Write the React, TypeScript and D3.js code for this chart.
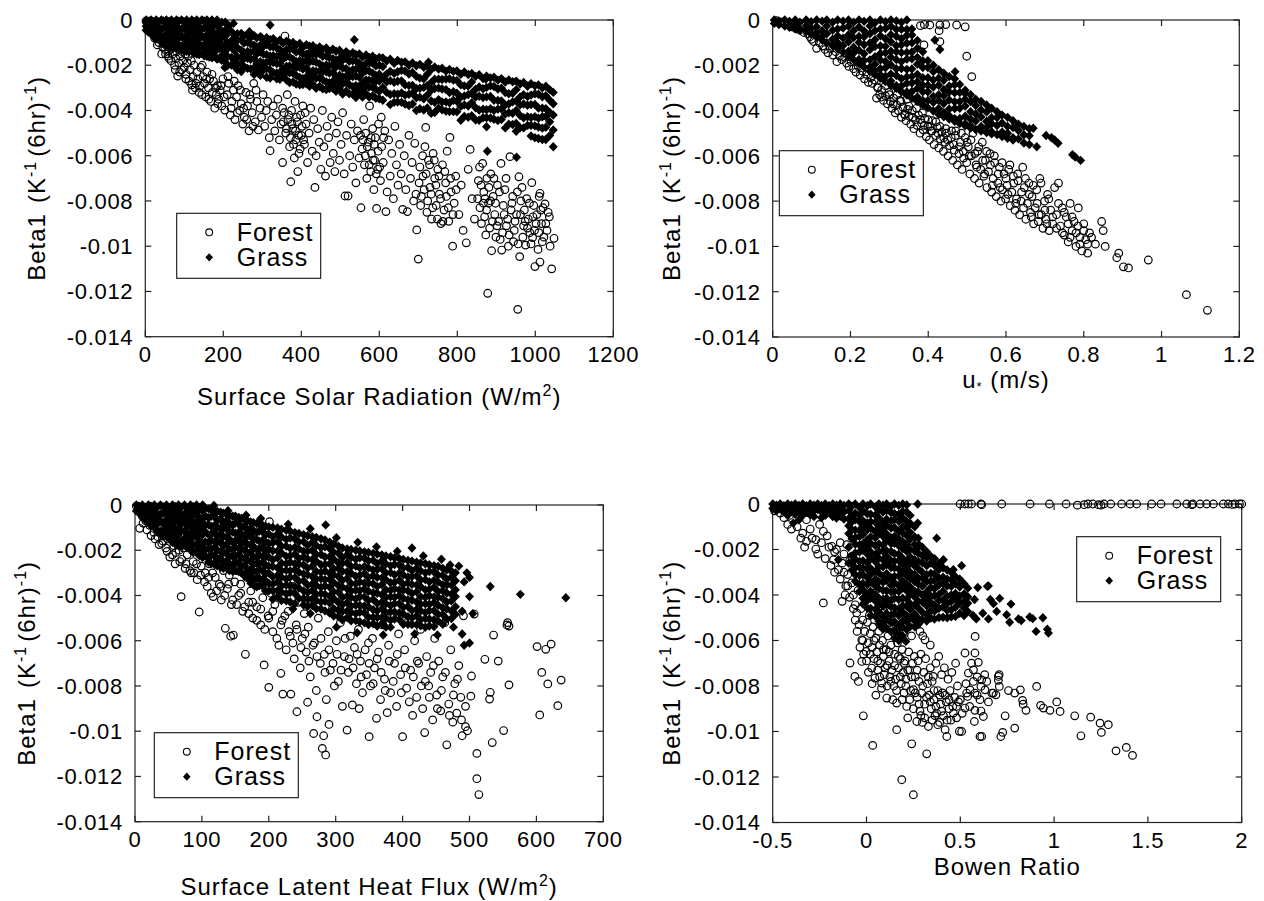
import React from "react";
import * as d3 from "d3";

// Beta1 values are stored in units of 1e-3 K^-1 (6hr)^-1 and scaled when drawn.
type Pt = [number, number];
// Dense series are listed as columns: an x value and the Beta1 values observed there.
type Col = [number, number[]];

const betaTicks = [0, -0.002, -0.004, -0.006, -0.008, -0.01, -0.012, -0.014];
const solarTicks = [0, 200, 400, 600, 800, 1000, 1200];
const ustarTicks = [0, 0.2, 0.4, 0.6, 0.8, 1, 1.2];
const latentTicks = [0, 100, 200, 300, 400, 500, 600, 700];
const bowenTicks = [-0.5, 0, 0.5, 1, 1.5, 2];

const seriesNames = ["Forest", "Grass"];

// Surface solar radiation (W/m2) vs Beta1
const solarForest: Pt[] = [
  [2,-0.05],[5,-0.1],[6,-0.3],[8,-0.2],[10,-0.05],[12,-0.3],[14,-0.5],[15,-0.15],[18,-0.4],[20,-0.25],[22,-0.6],[24,-0.8],[25,-0.45],[28,-0.8],[30,-0.35],[31,-1.1],[33,-0.7],[35,-1.0],[38,-0.55],[40,-0.9],[42,-1.5],[44,-0.95],[45,-1.2],[48,-0.75],[50,-1.3],
  [52,-1.5],[53,-1.1],[55,-0.9],[58,-1.6],[60,-1.35],[61,-1.7],[63,-1.2],[66,-1.8],[68,-1.25],[70,-1.5],[72,-1.05],[75,-2.0],[77,-2.2],[78,-1.7],[80,-1.4],[83,-2.48],[86,-1.9],[88,-2.3],[90,-1.6],[93,-2.2],[95,-1.4],[96,-1.8],[100,-2.1],
  [103,-1.5],[104,-2.6],[105,-2.4],[108,-1.9],[110,-1.6],[112,-2.7],[115,-2.2],[118,-1.8],[119,-2.87],[121,-3.1],[122,-2.5],[125,-2.0],[128,-3.0],[130,-2.8],[132,-2.3],[135,-2.6],[138,-3.2],[140,-2.92],[142,-2.1],[145,-3.3],[146,-2.0],[148,-2.5],
  [152,-2.8],[155,-3.4],[157,-2.6],[158,-2.3],[162,-3.0],[163,-3.5],[165,-2.6],[168,-3.6],[171,-2.4],[172,-3.2],[175,-2.7],[178,-3.9],[180,-3.0],[182,-3.3],[185,-2.9],[186,-3.7],[188,-3.5],[192,-3.1],[194,-2.9],[196,-3.8],[199,-2.6],
  [202,-3.4],[204,-3.98],[208,-0.59],[210,-3.3],[212,-2.5],[214,-2.8],[218,-4.2],[220,-3.9],[222,-3.6],[226,-3.1],[228,-2.7],[230,-4.4],[234,-3.4],[236,-4.1],[238,-2.9],[242,-4.0],[244,-3.1],[246,-3.7],[250,-4.6],
  [252,-3.9],[254,-4.3],[258,-3.2],[260,-4.4],[262,-3.8],[266,-4.9],[268,-3.3],[270,-3.5],[274,-4.1],[276,-4.7],[278,-2.8],[282,-4.5],[284,-3.1],[286,-3.6],[290,-4.86],[294,-3.9],[298,-4.3],
  [302,-3.3],[306,-4.7],[310,-4.0],[314,-3.6],[318,-5.2],[320,-5.78],[324,-4.4],[328,-3.8],[332,-4.9],[336,-4.2],[340,-3.5],[344,-5.3],[348,-4.6],[352,-6.3],[352,-3.9],
  [354,-4.5],[356,-4.1],[358,-0.71],[360,-5.0],[362,-4.8],[364,-3.3],[366,-4.4],[368,-4.2],[370,-5.6],[372,-5.2],[373,-7.15],[375,-4.0],[376,-4.6],[378,-4.8],[380,-5.5],[382,-6.1],[384,-3.6],[385,-4.9],[386,-5.3],[388,-4.3],[390,-4.5],[391,-6.7],[393,-5.1],[394,-5.9],[397,-5.7],[398,-4.2],[400,-5.1],[402,-4.7],[406,-5.3],[410,-4.1],
  [404,-3.8],[408,-5.5],[412,-4.6],[416,-6.3],[420,-5.0],[424,-3.9],[428,-5.8],[432,-4.4],[435,-7.4],[438,-6.0],[442,-4.8],[446,-5.4],[450,-6.6],
  [454,-4.0],[458,-5.6],[462,-6.9],[466,-4.7],[470,-5.2],[474,-6.3],[478,-4.3],[482,-5.9],[486,-6.7],[490,-5.0],[494,-4.5],[498,-6.2],
  [502,-5.5],[506,-4.1],[510,-6.8],[512,-7.78],[516,-5.1],[520,-7.78],[524,-6.0],[528,-4.6],[532,-6.5],[536,-5.3],[540,-7.2],[544,-4.9],[548,-6.1],
  [552,-5.1],[553,-8.3],[556,-5.7],[558,-5.3],[560,-4.4],[562,-6.4],[564,-6.0],[565,-5.0],[568,-7.0],[569,-5.6],[572,-5.4],[574,-6.4],[575,-3.8],[578,-6.7],[579,-5.2],[580,-5.9],[583,-4.8],[584,-6.2],[586,-7.5],[587,-5.5],[588,-6.2],[590,-5.2],[592,-6.8],[593,-8.33],[596,-6.6],[597,-5.8],[598,-4.6],[601,-6.5],[605,-4.3],[611,-5.2],
  [603,-7.1],[606,-5.6],[610,-6.3],[614,-4.9],[617,-8.47],[620,-7.6],[624,-5.3],[628,-6.9],[632,-5.9],[636,-7.9],[640,-4.7],[644,-6.4],[648,-7.3],
  [652,-5.5],[656,-6.8],[660,-8.37],[664,-6.0],[668,-7.5],[672,-8.47],[676,-5.1],[680,-7.0],[684,-6.3],[688,-8.0],[691,-5.45],[694,-7.7],[696,-9.28],[700,-10.57],
  [702,-7.2],[704,-6.5],[706,-8.2],[708,-7.8],[711,-6.0],[712,-6.9],[715,-7.5],[717,-5.6],[719,-4.75],[720,-6.8],[722,-8.5],[724,-8.0],[726,-6.2],[729,-6.4],[730,-7.4],[733,-7.7],[734,-8.8],[737,-8.3],[738,-5.9],[741,-6.2],[742,-7.0],[745,-7.3],[746,-8.2],[749,-8.8],[750,-6.6],
  [753,-6.9],[754,-7.7],[757,-7.9],[758,-9.0],[762,-6.4],[763,-8.9],[766,-8.4],[768,-6.7],[770,-7.2],[772,-7.8],[774,-5.8],[777,-8.3],[778,-8.9],[781,-5.19],[783,-7.0],[784,-7.6],[788,-10.0],[789,-8.6],[792,-8.1],[796,-6.9],[797,-7.5],
  [804,-8.6],[810,-7.3],[815,-9.3],[823,-9.85],[828,-6.6],[833,-5.72],[838,-7.9],[844,-8.8],
  [852,-7.9],[854,-7.1],[857,-6.5],[858,-8.3],[861,-7.3],[862,-9.0],[865,-6.34],[867,-8.1],[868,-7.6],[870,-8.7],[871,-7.9],[873,-9.5],[875,-8.4],[876,-7.0],[878,-12.08],[880,-8.1],[881,-7.4],[883,-9.2],[885,-8.0],[886,-6.8],[888,-10.2],[890,-8.9],[892,-7.8],[894,-7.0],[896,-8.6],[898,-8.1],[899,-9.6],
  [902,-9.1],[903,-7.3],[906,-8.9],[908,-7.6],[910,-9.7],[912,-6.34],[914,-10.17],[916,-9.4],[918,-8.2],[920,-8.6],[922,-7.5],[925,-7.0],[926,-9.1],[929,-8.8],[931,-10.0],[933,-9.5],[935,-6.04],[938,-8.4],[940,-8.1],[942,-7.8],[944,-9.8],[946,-9.3],[948,-8.9],
  [952,-8.6],[954,-7.6],[955,-12.79],[956,-9.9],[958,-6.93],[960,-10.46],[962,-8.6],[963,-8.0],[966,-7.4],[968,-9.6],[970,-9.1],[972,-8.4],[974,-8.9],[975,-9.95],[978,-7.9],[980,-9.2],[982,-8.8],[985,-8.1],[986,-9.4],[989,-9.9],[991,-7.19],[993,-9.62],[994,-8.7],[996,-8.2],[998,-9.3],[999,-10.9],
  [1002,-9.0],[1004,-8.6],[1007,-10.14],[1009,-9.4],[1010,-7.8],[1012,-10.7],[1012,-7.66],[1014,-8.4],[1016,-9.0],[1018,-9.8],[1020,-8.3],[1022,-9.6],[1025,-8.13],[1027,-9.0],[1030,-9.3],[1033,-8.5],[1036,-8.7],[1038,-10.0],[1042,-11.0],[1048,-9.65],
];

const solarGrass: Col[] = [
  [2,[0,-0.28,-0.45]],[8,[-0.05,-0.3,-0.53]],[15,[0,-0.31,-0.62]],[21,[-0.08,-0.5,-0.72]],[28,[0,-0.26,-0.61,-0.82]],[34,[-0.1,-0.45,-0.85]],
  [41,[0,-0.4,-0.7,-0.98]],[47,[-0.04,-0.34,-0.79,-1.06]],[54,[0,-0.28,-0.65,-0.96,-1.12]],[60,[-0.06,-0.43,-0.74,-1.15]],[67,[0,-0.31,-0.73,-0.99,-1.19]],
  [73,[-0.1,-0.52,-0.78,-1.13]],[80,[0,-0.26,-0.61,-1.01,-1.26]],[86,[-0.05,-0.4,-0.8,-1.1,-1.29]],[93,[0,-0.4,-0.7,-1.15,-1.33]],[99,[-0.08,-0.38,-0.83,-1.16,-1.36]],
  [106,[0,-0.28,-0.65,-0.96,-1.38]],[112,[-0.12,-0.49,-0.8,-1.22,-1.41]],[119,[0,-0.31,-0.73,-0.99,-1.34]],[125,[-0.06,-0.48,-0.74,-1.09,-1.47]],[132,[0,-0.26,-0.61,-1.01,-1.31,-1.5]],
  [138,[-0.1,-0.45,-0.85,-1.15,-1.53]],[145,[0,-0.4,-0.7,-1.15,-1.48]],[151,[-0.04,-0.34,-0.79,-1.12,-1.41,-1.58]],[158,[0,-0.28,-0.65,-0.96,-1.38,-1.61]],[164,[-0.1,-0.47,-0.78,-1.2,-1.46,-1.64]],
  [171,[0,-0.31,-0.73,-0.99,-1.34,-1.67]],[177,[-0.15,-0.57,-0.83,-1.18,-1.58]],[184,[0,-0.26,-0.61,-1.01,-1.31,-1.73]],[190,[-0.2,-0.55,-0.95,-1.25,-1.7]],[196,[-0.1,-0.5,-0.8,-1.25,-1.58,-1.78]],
  [205,[-0.1]],[214,[-0.25]],[226,[-0.15]],
  [204,[-0.46,-0.74,-1.11,-1.42,-1.84,-2.1]],[211,[-0.58,-1.0,-1.26,-1.61,-2.01]],[221,[-0.51,-0.91,-1.21,-1.66,-1.99]],[229,[-0.69,-1.06,-1.37,-1.79,-2.05]],
  [236,[-0.61,-0.87,-1.22,-1.62,-1.92,-2.2]],[246,[-0.59,-0.89,-1.34,-1.67,-1.96,-2.28]],[253,[-0.71,-1.02,-1.44,-1.7,-2.05]],[262,[-0.64,-0.99,-1.39,-1.69,-2.14]],
  [267,[-0.52]],[270,[-0.78,-1.06,-1.43,-1.74,-2.16]],[279,[-0.69,-1.11,-1.37,-1.72,-2.12,-2.41]],[286,[-0.79,-1.19,-1.49,-1.94,-2.27]],[295,[-0.74,-1.11,-1.42,-1.84,-2.1,-2.45]],
  [298,[-0.77]],[303,[-0.9,-1.16,-1.51,-1.91,-2.21]],[311,[-0.78,-1.08,-1.53,-1.86,-2.15,-2.53]],[320,[-0.22,-0.87,-1.18,-1.6,-1.86,-2.21,-2.57]],[328,[-0.83,-1.18,-1.58,-1.88,-2.33]],
  [337,[-0.96,-1.24,-1.61,-1.92,-2.34,-2.6]],[345,[-0.89,-1.31,-1.57,-1.92,-2.32,-2.62]],[353,[-1.03,-1.43,-1.73,-2.18,-2.51]],[362,[-0.94,-1.31,-1.62,-2.04,-2.3,-2.65]],
  [370,[-1.02,-1.28,-1.63,-2.03,-2.33,-2.76]],[379,[-0.99,-1.29,-1.74,-2.07,-2.36,-2.74]],[387,[-1.11,-1.42,-1.84,-2.1,-2.45,-2.83]],[396,[-1.04,-1.39,-1.79,-2.09,-2.54,-2.86]],
  [404,[-1.21,-1.49,-1.86,-2.17,-2.59,-2.85]],[413,[-1.09,-1.51,-1.77,-2.12,-2.52,-2.82]],[421,[-1.16,-1.56,-1.86,-2.31,-2.64,-2.93]],[423,[-1.4]],[430,[-1.14,-1.51,-1.82,-2.24,-2.5,-2.85]],
  [438,[-1.26,-1.52,-1.87,-2.27,-2.57,-3.02]],[447,[-1.19,-1.49,-1.94,-2.27,-2.56,-2.94]],[453,[-1.3]],[455,[-1.3,-1.61,-2.03,-2.29,-2.64,-3.04]],[464,[-1.24,-1.59,-1.99,-2.29,-2.74,-3.07]],
  [472,[-1.39,-1.67,-2.04,-2.35,-2.77,-3.03]],[481,[-1.29,-1.71,-1.97,-2.32,-2.72,-3.02]],[489,[-1.38,-1.78,-2.08,-2.53,-2.86,-3.15]],[498,[-1.34,-1.71,-2.02,-2.44,-2.7,-3.05]],
  [506,[-1.51,-1.77,-2.12,-2.52,-2.82,-3.27]],[515,[-1.4,-1.7,-2.15,-2.48,-2.77,-3.15]],[523,[-1.52,-1.83,-2.25,-2.51,-2.86,-3.26]],[532,[-1.45,-1.8,-2.2,-2.5,-2.95,-3.28]],
  [536,[-0.87]],[540,[-1.52,-1.8,-2.17,-2.48,-2.9,-3.16,-3.43]],[549,[-1.5,-1.92,-2.18,-2.53,-2.93,-3.23]],[557,[-1.64,-2.04,-2.34,-2.79,-3.12,-3.41]],[566,[-1.55,-1.92,-2.23,-2.65,-2.91,-3.26]],
  [574,[-1.65,-1.91,-2.26,-2.66,-2.96,-3.41]],[583,[-1.6,-1.9,-2.35,-2.68,-2.97,-3.35]],[591,[-1.72,-2.03,-2.45,-2.71,-3.06,-3.46]],[600,[-1.65,-2.0,-2.4,-2.7,-3.15,-3.48]],
  [609,[-1.68,-2.06,-2.56,-2.98,-3.55]],[619,[-1.81,-2.38,-2.73,-3.2]],[628,[-1.73,-2.27,-2.68,-3.29,-3.74]],[638,[-1.91,-2.36,-2.75,-3.26,-3.64]],[647,[-1.79,-2.29,-2.71,-3.28,-3.63]],
  [657,[-1.87,-2.22,-2.69,-3.23,-3.64]],[666,[-1.85,-2.26,-2.87,-3.32,-3.71]],[676,[-2.0,-2.39,-2.9,-3.28,-3.78]],[685,[-1.9,-2.32,-2.89,-3.24,-3.71]],[695,[-2.02,-2.49,-3.03,-3.44,-4.0]],
  [704,[-1.96,-2.57,-3.02,-3.41,-3.92]],[714,[-2.09,-2.6,-2.98,-3.48,-3.98]],[723,[-2.02,-2.4,-2.9,-3.32,-3.89]],[726,[-1.87]],[733,[-2.19,-2.76,-3.11,-3.58,-4.12]],
  [742,[-2.08,-2.62,-3.03,-3.64,-4.09]],[752,[-2.17,-2.62,-3.01,-3.52,-3.9]],[761,[-2.13,-2.63,-3.05,-3.62,-3.97]],[771,[-2.26,-2.61,-3.08,-3.62,-4.03]],[780,[-2.19,-2.6,-3.21,-3.66,-4.05]],
  [790,[-2.27,-2.66,-3.17,-3.55,-4.05]],[799,[-2.25,-2.67,-3.24,-3.59,-4.06]],[809,[-2.4,-2.87,-3.41,-3.82,-4.43]],[818,[-2.3,-2.91,-3.36,-3.75,-4.26]],[828,[-2.41,-2.92,-3.3,-3.8,-4.3]],
  [837,[-2.36,-2.74,-3.24,-3.66,-4.23]],[847,[-2.49,-3.06,-3.41,-3.88,-4.42]],[856,[-2.42,-2.96,-3.37,-3.98,-4.43]],[866,[-2.59,-3.04,-3.43,-3.94,-4.32]],[873,[-2.61]],[877,[-5.8]],
  [875,[-2.48,-2.98,-3.4,-3.97,-4.32,-4.72]],[885,[-2.56,-2.91,-3.38,-3.92,-4.33]],[894,[-2.53,-2.94,-3.55,-4.0,-4.39]],[904,[-2.66,-3.05,-3.56,-3.94,-4.44]],[913,[-2.59,-3.01,-3.58,-3.93,-4.4]],
  [923,[-2.74,-3.21,-3.75,-4.16,-4.77]],[932,[-2.65,-3.26,-3.71,-4.1,-4.61]],[942,[-2.73,-3.24,-3.62,-4.12,-4.62]],[951,[-2.7,-3.08,-3.58,-4.0,-4.57,-4.92]],[952,[-6.07]],
  [961,[-2.83,-3.4,-3.75,-4.22,-4.76]],[970,[-2.76,-3.3,-3.71,-4.32,-4.77]],[980,[-2.93,-3.38,-3.77,-4.28,-4.66]],[989,[-2.82,-3.32,-3.74,-4.31,-4.66,-5.13]],[999,[-2.91,-3.26,-3.73,-4.27,-4.68,-5.2]],
  [1008,[-2.87,-3.28,-3.89,-4.34,-4.73,-5.24]],[1018,[-3.0,-3.39,-3.9,-4.28,-4.78,-5.28]],[1027,[-2.93,-3.35,-3.92,-4.27,-4.74,-5.28]],[1037,[-3.08,-3.55,-4.09,-4.5,-5.11]],[1046,[-3.2,-3.7,-4.2,-4.86,-5.6]],
];

// Friction velocity u* (m/s) vs Beta1
const ustarForest: Pt[] = [
  [0.01,-0.03],[0.02,-0.08],[0.03,-0.12],[0.04,-0.2],[0.05,-0.3],[0.06,-0.38],[0.07,-0.45],[0.08,-0.55],[0.09,-0.6],[0.096,-0.74],[0.1,-0.85],
  [0.105,-0.95],[0.113,-1.25],[0.12,-1.0],[0.128,-1.15],[0.135,-1.3],[0.142,-1.45],[0.148,-1.25],
  [0.155,-1.55],[0.162,-1.4],[0.165,-1.84],[0.172,-1.6],[0.178,-1.75],[0.185,-1.65],[0.19,-1.9],[0.196,-2.05],
  [0.202,-1.85],[0.208,-2.15],[0.214,-2.3],[0.22,-2.05],[0.225,-2.43],[0.23,-2.25],[0.236,-2.6],[0.241,-2.4],[0.246,-2.75],
  [0.252,-2.55],[0.256,-2.8],[0.261,-2.65],[0.267,-3.45],[0.27,-2.95],[0.275,-3.3],[0.28,-3.1],[0.285,-3.55],[0.29,-3.35],[0.295,-3.7],[0.299,-3.2],
  [0.303,-3.6],[0.307,-3.9],[0.311,-3.45],[0.315,-4.1],[0.319,-3.75],[0.323,-4.0],[0.327,-3.55],[0.331,-4.3],[0.335,-3.85],[0.339,-4.15],[0.343,-4.45],[0.347,-3.95],
  [0.351,-4.25],[0.355,-4.6],[0.359,-4.0],[0.363,-4.8],[0.367,-4.4],[0.371,-4.65],[0.375,-4.2],[0.379,-5.0],[0.383,-4.55],[0.387,-4.85],[0.391,-4.35],[0.395,-5.15],[0.399,-4.7],
  [0.403,-5.3],[0.407,-4.9],[0.411,-4.45],[0.415,-5.5],[0.419,-5.1],[0.423,-4.75],[0.427,-5.65],[0.431,-5.25],[0.435,-4.95],[0.439,-5.8],[0.443,-5.4],[0.447,-5.0],
  [0.451,-6.0],[0.455,-5.55],[0.459,-5.2],[0.463,-6.2],[0.467,-5.75],[0.471,-4.9],[0.475,-6.4],[0.479,-5.9],[0.483,-5.4],[0.487,-6.6],[0.491,-6.1],[0.495,-5.2],[0.499,-6.3],
  [0.503,-5.6],[0.507,-6.8],[0.511,-6.0],[0.515,-5.0],[0.519,-7.0],[0.523,-6.4],[0.527,-5.8],[0.531,-7.2],[0.535,-6.6],[0.539,-5.4],[0.543,-6.9],[0.547,-6.2],
  [0.551,-7.4],[0.555,-6.7],[0.559,-5.9],[0.563,-7.6],[0.567,-7.0],[0.571,-6.3],[0.575,-7.8],[0.579,-7.2],[0.583,-6.5],[0.587,-8.0],[0.591,-7.5],[0.595,-6.8],[0.599,-7.9],
  [0.603,-7.3],[0.607,-6.6],[0.611,-8.2],[0.615,-7.6],[0.619,-6.9],[0.623,-8.4],[0.627,-7.9],[0.631,-7.1],[0.635,-8.6],[0.639,-8.0],[0.643,-6.5],[0.647,-7.4],
  [0.651,-8.8],[0.655,-8.1],[0.659,-7.2],[0.663,-8.5],[0.667,-7.8],[0.671,-9.0],[0.675,-8.3],[0.679,-7.5],[0.683,-8.9],[0.687,-7.0],[0.691,-8.6],[0.695,-9.2],[0.699,-8.0],
  [0.703,-8.8],[0.707,-7.7],[0.711,-9.3],[0.715,-8.4],[0.72,-9.0],[0.725,-7.4],[0.73,-8.6],[0.735,-7.2],[0.74,-9.1],[0.745,-8.3],[0.75,-9.5],
  [0.755,-8.7],[0.76,-9.8],[0.765,-8.1],[0.77,-9.3],[0.775,-8.9],[0.78,-10.0],[0.785,-9.1],[0.786,-8.3],[0.79,-9.6],[0.795,-10.2],[0.8,-9.0],
  [0.805,-9.7],[0.81,-10.3],[0.815,-9.4],[0.846,-8.9],[0.85,-9.3],[0.855,-10.0],[0.885,-10.5],[0.89,-10.3],[0.902,-10.9],[0.915,-10.95],[0.966,-10.6],[1.064,-12.13],[1.118,-12.82],
  [0.38,-0.25],[0.39,-0.2],[0.404,-0.22],[0.43,-0.22],[0.445,-0.2],[0.473,-0.22],[0.495,-0.3],[0.428,-0.47],[0.43,-0.96],[0.389,-1.1],[0.499,-1.6],[0.512,-2.5],
  [0.27,-3.0],[0.28,-3.4],[0.29,-2.9],[0.3,-3.3],[0.31,-3.7],[0.32,-3.3],[0.33,-3.6],[0.34,-4.2],[0.345,-3.5],[0.35,-3.8],[0.36,-4.3],[0.37,-3.9],[0.38,-4.4],[0.385,-4.1],[0.39,-4.65],[0.4,-4.4],
  [0.405,-4.7],[0.41,-4.9],[0.42,-4.5],[0.425,-5.0],[0.43,-4.7],[0.44,-5.2],[0.445,-4.8],[0.45,-5.3],[0.46,-4.9],[0.465,-5.5],[0.47,-5.1],[0.48,-5.6],[0.485,-5.0],[0.49,-5.8],[0.5,-5.4],
  [0.505,-6.0],[0.51,-5.3],[0.52,-5.9],[0.525,-6.5],[0.53,-5.6],[0.54,-6.2],[0.545,-6.8],[0.55,-5.8],[0.56,-6.4],[0.565,-7.3],[0.57,-6.0],[0.58,-6.8],[0.585,-7.4],[0.59,-6.3],[0.6,-7.0],
  [0.605,-7.7],[0.61,-6.4],[0.62,-7.2],[0.625,-8.1],[0.63,-6.8],[0.64,-7.6],[0.645,-8.3],[0.65,-7.0],[0.66,-7.7],[0.665,-8.7],[0.67,-7.3],[0.68,-8.1],[0.685,-8.6],[0.69,-7.2],[0.7,-8.4],
  [0.705,-9.0],[0.71,-7.9],[0.72,-8.7],[0.73,-9.2],[0.735,-8.1],[0.745,-9.4],[0.75,-8.5],[0.76,-9.0],[0.765,-9.6],[0.77,-8.7],[0.78,-9.4],[0.79,-9.9],[0.8,-9.3],[0.81,-9.9],[0.82,-9.6],[0.83,-9.9],
];

const ustarGrass: Col[] = [
  [0.004,[0,-0.15]],[0.016,[-0.05,-0.2]],[0.031,[0,-0.27]],[0.043,[-0.06,-0.32]],[0.058,[0,-0.22,-0.39]],[0.07,[-0.1,-0.44]],
  [0.086,[0,-0.25,-0.5]],[0.099,[-0.08,-0.38,-0.62]],[0.113,[0,-0.3,-0.55,-0.75]],[0.127,[-0.05,-0.47,-0.73,-0.88]],[0.139,[0,-0.26,-0.61,-1.0]],
  [0.154,[-0.1,-0.45,-0.85,-1.14]],[0.167,[0,-0.4,-0.7,-1.0,-1.26]],[0.181,[-0.05,-0.35,-0.8,-1.13,-1.42]],[0.195,[0,-0.28,-0.65,-0.96,-1.38,-1.6]],
  [0.208,[-0.1,-0.47,-0.78,-1.2,-1.46,-1.75]],[0.222,[0,-0.31,-0.73,-0.99,-1.34,-1.74,-1.92]],[0.235,[-0.06,-0.48,-0.74,-1.09,-1.49,-1.79,-2.08]],
  [0.25,[0,-0.26,-0.61,-1.01,-1.31,-1.76,-2.09,-2.26]],[0.263,[-0.12,-0.47,-0.87,-1.17,-1.62,-1.95,-2.24,-2.42]],[0.277,[0,-0.4,-0.7,-1.15,-1.48,-1.77,-2.15,-2.43,-2.57]],
  [0.29,[-0.08,-0.38,-0.83,-1.16,-1.45,-1.83,-2.11,-2.48,-2.72]],[0.304,[0,-0.28,-0.65,-0.96,-1.38,-1.64,-1.99,-2.39,-2.69,-2.87]],
  [0.318,[-0.04,-0.41,-0.72,-1.14,-1.4,-1.75,-2.15,-2.45,-2.9,-3.02]],[0.331,[-0.1,-0.41,-0.83,-1.09,-1.44,-1.84,-2.14,-2.59,-2.92,-3.17]],
  [0.345,[0,-0.42,-0.68,-1.03,-1.43,-1.73,-2.18,-2.51,-2.8,-3.18,-3.32]],[0.358,[-0.4,-0.66,-1.01,-1.41,-1.71,-2.16,-2.49,-2.78,-3.16,-3.46]],
  [0.372,[-0.9,-1.25,-1.65,-1.95,-2.4,-2.73,-3.02,-3.4,-3.6]],[0.386,[-1.4,-1.8,-2.1,-2.55,-2.88,-3.17,-3.55,-3.74]],[0.399,[-1.8,-2.1,-2.55,-2.88,-3.17,-3.55,-3.88]],
  [0.413,[-2.0,-2.28,-2.65,-2.96,-3.38,-3.64,-4.02]],[0.427,[-2.2,-2.57,-2.88,-3.3,-3.56,-3.91,-4.17]],[0.44,[-2.35,-2.66,-3.08,-3.34,-3.69,-4.09,-4.27]],
  [0.454,[-2.5,-2.92,-3.18,-3.53,-3.93,-4.23,-4.37]],[0.468,[-2.6,-2.86,-3.21,-3.61,-3.91,-4.36,-4.47]],[0.481,[-2.85,-3.2,-3.6,-3.9,-4.35,-4.57]],
  [0.495,[-3.1,-3.5,-3.8,-4.25,-4.58,-4.67]],[0.509,[-3.3,-3.6,-4.05,-4.38,-4.67,-4.77]],[0.522,[-3.5,-3.78,-4.15,-4.46,-4.84]],[0.536,[-3.6,-3.97,-4.28,-4.7,-4.9]],
  [0.55,[-3.75,-4.06,-4.48,-4.74,-4.97]],[0.563,[-3.9,-4.32,-4.58,-4.93,-5.03]],[0.577,[-4.05,-4.31,-4.66,-5.06]],[0.59,[-4.2,-4.55,-4.95,-5.15]],
  [0.604,[-4.3,-4.7,-5.0,-5.22]],[0.618,[-4.45,-4.75,-5.2,-5.3]],[0.632,[-4.6,-4.88,-5.25]],[0.646,[-4.7,-5.07,-5.43]],[0.66,[-4.8,-5.11,-5.5]],
  [0.67,[-4.78]],[0.679,[-5.6]],[0.703,[-5.1]],[0.717,[-5.2]],[0.725,[-5.3]],[0.734,[-5.44]],[0.771,[-5.95]],[0.778,[-6.05]],[0.792,[-6.2]],
  [0.417,[-0.88]],[0.43,[-1.3]],[0.469,[-2.28]],[0.494,[-3.23]],
];

// Surface latent heat flux (W/m2) vs Beta1
const latentForest: Pt[] = [
  [2,-0.05],[5,-0.15],[7,-1.03],[8,-0.3],[11,-0.5],[14,-0.2],[16,-0.7],[19,-0.4],[22,-0.9],[25,-0.6],[28,-1.2],[31,-0.8],[34,-1.4],[37,-1.0],[40,-1.7],[43,-1.2],[46,-1.9],[49,-1.5],
  [52,-2.3],[55,-1.3],[58,-1.8],[61,-2.1],[64,-1.5],[67,-2.5],[69,-4.05],[72,-1.9],[75,-2.8],[78,-2.2],[81,-1.7],[84,-3.0],[87,-2.5],[90,-2.0],[93,-3.3],[96,-4.73],[99,-2.7],
  [102,-2.2],[105,-3.0],[108,-3.6],[111,-2.6],[114,-3.9],[117,-4.05],[120,-3.2],[123,-2.4],[126,-3.5],[129,-4.2],[132,-2.9],[135,-5.45],[138,-3.7],[141,-3.1],[143,-5.8],[144,-4.4],[147,-5.75],[149,-3.4],
  [152,-2.9],[155,-4.0],[158,-3.5],[161,-4.7],[165,-6.6],[167,-3.2],[170,-4.3],[173,-3.8],[176,-5.0],[179,-2.8],[182,-4.5],[185,-3.4],[188,-5.3],[191,-4.1],[193,-7.07],[196,-3.6],[199,-4.9],[200,-8.06],[201,-0.74],
  [203,-3.9],[206,-5.6],[209,-4.4],[212,-3.3],[215,-6.2],[218,-7.44],[220,-5.1],[221,-8.36],[223,-4.0],[226,-6.4],[229,-4.7],[232,-5.8],[233,-8.36],[235,-3.6],[238,-6.8],[241,-5.3],[242,-9.14],[244,-4.3],[247,-7.2],[250,-5.9],
  [253,-4.8],[256,-6.5],[258,-8.72],[259,-5.4],[262,-7.6],[265,-4.2],[267,-10.1],[268,-6.1],[271,-8.2],[272,-9.36],[274,-5.0],[277,-7.0],[280,-10.76],[282,-10.2],[283,-6.6],[285,-11.05],[286,-8.6],[289,-5.6],[290,-9.7],[292,-7.3],[295,-4.6],[298,-8.0],
  [301,-6.0],[304,-7.8],[307,-5.2],[310,-8.9],[313,-6.7],[316,-4.9],[317,-9.95],[319,-7.4],[322,-5.8],[325,-8.84],[328,-6.3],[331,-7.9],[334,-5.5],[335,-9.0],[337,-6.9],[340,-8.3],[343,-4.7],[346,-7.5],[349,-6.1],[350,-10.24],
  [352,-8.0],[355,-5.9],[358,-7.2],[361,-9.43],[364,-6.5],[367,-8.6],[370,-5.3],[373,-7.7],[377,-9.18],[379,-6.2],[382,-8.3],[385,-4.9],[388,-7.0],[391,-8.9],[394,-5.7],[397,-7.5],[400,-10.24],
  [403,-6.4],[406,-8.1],[409,-5.1],[412,-7.3],[415,-9.3],[418,-6.0],[421,-8.5],[424,-7.0],[427,-5.5],[430,-9.0],[433,-10.06],[436,-6.7],[439,-8.0],[442,-7.4],[445,-9.5],[448,-5.9],
  [451,-8.4],[454,-6.9],[457,-9.1],[460,-7.6],[463,-5.2],[466,-10.6],[469,-8.8],[472,-6.4],[475,-9.6],[478,-7.9],[481,-9.2],[484,-7.1],[487,-8.5],[489,-10.2],[491,-4.9],[494,-9.8],[497,-9.98],
  [502,-8.45],[503,-7.56],[507,-4.82],[511,-10.98],[511,-12.1],[514,-12.8],
  [523,-6.82],[530,-8.58],[531,-8.28],[534,-10.5],[536,-5.75],[543,-6.9],[551,-9.97],[556,-5.3],[557,-5.2],[559,-5.35],[559,-7.95],
  [601,-6.26],[605,-9.28],[608,-7.4],[614,-6.38],[617,-7.91],[622,-6.15],[632,-8.87],[637,-7.74],
  [12,-0.8],[18,-1.1],[24,-1.35],[30,-1.5],[36,-1.75],[42,-1.6],[48,-2.05],[56,-2.2],[60,-2.6],[66,-2.0],[70,-2.4],[76,-2.6],[82,-2.9],[88,-3.0],[92,-2.6],[98,-3.1],
  [104,-3.4],[110,-3.2],[116,-3.0],[122,-3.8],[128,-3.6],[134,-4.0],[140,-3.5],[146,-4.2],[152,-4.4],[158,-3.9],[164,-4.5],[170,-4.8],[176,-4.3],[182,-5.1],[188,-4.6],[194,-5.5],
  [200,-5.0],[206,-4.7],[212,-5.9],[218,-5.3],[224,-4.9],[230,-5.6],[236,-6.1],[242,-5.5],[248,-6.3],[254,-5.7],[260,-6.9],[266,-6.2],[272,-6.7],[278,-5.9],[284,-7.4],[290,-6.4],
  [296,-7.0],[302,-6.6],[308,-7.3],[314,-5.9],[320,-6.8],[326,-7.2],[332,-6.6],[338,-7.6],[344,-6.4],[350,-7.0],[356,-7.9],[362,-6.8],[368,-7.4],[374,-8.2],[380,-6.9],[386,-7.8],
  [392,-6.6],[398,-8.3],[404,-7.2],[410,-8.7],[416,-7.6],[422,-6.9],[428,-8.0],[434,-7.8],[440,-8.5],[446,-7.1],[452,-9.0],[458,-8.2],[464,-7.4],[470,-9.3],[476,-8.4],[482,-7.7],[488,-9.5],[494,-8.9],
];

const latentGrass: Col[] = [
  [2,[0,-0.26]],[6,[-0.05,-0.36]],[11,[0,-0.28,-0.5]],[15,[-0.1,-0.47,-0.65]],[20,[0,-0.31,-0.73]],[24,[-0.05,-0.47,-0.73,-0.92]],
  [29,[0,-0.26,-0.61,-1.01]],[33,[-0.1,-0.45,-0.85,-1.15]],[38,[0,-0.4,-0.7,-1.15,-1.28]],[42,[-0.08,-0.38,-0.83,-1.16,-1.37]],[47,[0,-0.28,-0.65,-0.96,-1.38]],
  [51,[-0.12,-0.49,-0.8,-1.22,-1.48]],[56,[0,-0.31,-0.73,-0.99,-1.34,-1.65]],[60,[-0.06,-0.48,-0.74,-1.09,-1.49,-1.71]],[65,[0,-0.26,-0.61,-1.01,-1.31,-1.76]],
  [69,[-0.1,-0.45,-0.85,-1.15,-1.6,-1.84]],[74,[0,-0.4,-0.7,-1.15,-1.48,-1.77]],[78,[-0.14,-0.44,-0.89,-1.22,-1.51,-1.89]],[83,[0,-0.28,-0.65,-0.96,-1.38,-1.64,-1.99]],
  [87,[-0.07,-0.44,-0.75,-1.17,-1.43,-1.78,-2.1]],[92,[0,-0.31,-0.73,-0.99,-1.34,-1.74,-2.04]],[96,[-0.12,-0.54,-0.8,-1.15,-1.55,-1.85,-2.24]],
  [101,[0,-0.26,-0.61,-1.01,-1.31,-1.76,-2.09,-2.32]],[105,[-0.13,-0.48,-0.88,-1.18,-1.63,-1.96,-2.25]],[110,[-0.17,-0.57,-0.87,-1.32,-1.65,-1.94,-2.32,-2.52]],
  [114,[-0.2,-0.5,-0.95,-1.28,-1.57,-1.95,-2.23,-2.59]],[119,[-0.24,-0.52,-0.89,-1.2,-1.62,-1.88,-2.23,-2.63]],[123,[-0.28,-0.65,-0.96,-1.38,-1.64,-1.99,-2.39,-2.69]],
  [128,[-0.32,-0.63,-1.05,-1.31,-1.66,-2.06,-2.36,-2.75]],[132,[-0.36,-0.78,-1.04,-1.39,-1.79,-2.09,-2.54,-2.8]],[137,[-0.41,-0.67,-1.02,-1.42,-1.72,-2.17,-2.5,-2.79]],
  [141,[-0.45,-0.8,-1.2,-1.5,-1.95,-2.28,-2.57,-2.9]],[146,[-0.5,-0.9,-1.2,-1.65,-1.98,-2.27,-2.65,-2.93]],[150,[-0.5,-0.8,-1.25,-1.58,-1.87,-2.25,-2.53,-2.9]],
  [155,[-0.55,-0.83,-1.2,-1.51,-1.93,-2.19,-2.54,-2.94]],[159,[-0.6,-0.97,-1.28,-1.7,-1.96,-2.31,-2.71,-3.01]],[164,[-0.65,-0.96,-1.38,-1.64,-1.99,-2.39,-2.69,-3.14]],
  [168,[-0.7,-1.12,-1.38,-1.73,-2.13,-2.43,-2.88,-3.21]],[173,[-0.75,-1.01,-1.36,-1.76,-2.06,-2.51,-2.84,-3.13,-3.46]],[177,[-0.78,-1.13,-1.53,-1.83,-2.28,-2.61,-2.9,-3.28,-3.54]],
  [182,[-0.82,-1.22,-1.52,-1.97,-2.3,-2.59,-2.97,-3.25,-3.62]],[186,[-0.85,-1.15,-1.6,-1.93,-2.22,-2.6,-2.88,-3.25,-3.56]],[191,[-0.9,-1.18,-1.55,-1.86,-2.28,-2.54,-2.89,-3.29,-3.59]],
  [195,[-0.94,-1.31,-1.62,-2.04,-2.3,-2.65,-3.05,-3.35,-3.8]],[200,[-0.97,-1.28,-1.7,-1.96,-2.31,-2.71,-3.01,-3.46,-3.79]],
  [206,[-0.99,-1.41,-1.67,-2.02,-2.42,-2.72,-3.17,-3.5,-3.79,-4.17]],[213,[-1.02,-1.28,-1.63,-2.03,-2.33,-2.78,-3.11,-3.4,-3.78,-4.06]],
  [219,[-1.07,-1.42,-1.82,-2.12,-2.57,-2.9,-3.19,-3.57,-3.85,-4.22]],[226,[-1.12,-1.52,-1.82,-2.27,-2.6,-2.89,-3.27,-3.55,-3.92,-4.23]],
  [232,[-1.16,-1.46,-1.91,-2.24,-2.53,-2.91,-3.19,-3.56,-3.87,-4.29]],[239,[-1.22,-1.5,-1.87,-2.18,-2.6,-2.86,-3.21,-3.61,-3.91,-4.36]],
  [245,[-1.26,-1.63,-1.94,-2.36,-2.62,-2.97,-3.37,-3.67,-4.12]],[252,[-1.31,-1.62,-2.04,-2.3,-2.65,-3.05,-3.35,-3.8,-4.13,-4.42]],
  [258,[-1.36,-1.78,-2.04,-2.39,-2.79,-3.09,-3.54,-3.87,-4.16,-4.48]],[265,[-1.4,-1.66,-2.01,-2.41,-2.71,-3.16,-3.49,-3.78,-4.16,-4.44]],
  [271,[-1.44,-1.79,-2.19,-2.49,-2.94,-3.27,-3.56,-3.94,-4.22,-4.59]],[278,[-1.49,-1.89,-2.19,-2.64,-2.97,-3.26,-3.64,-3.92,-4.29,-4.6]],
  [284,[-1.55,-1.85,-2.3,-2.63,-2.92,-3.3,-3.58,-3.95,-4.26,-4.68]],[285,[-0.88]],[291,[-1.64,-1.92,-2.29,-2.6,-3.02,-3.28,-3.63,-4.03,-4.33,-4.78]],
  [297,[-1.72,-2.09,-2.4,-2.82,-3.08,-3.43,-3.83,-4.13,-4.58,-4.91]],[304,[-1.82,-2.13,-2.55,-2.81,-3.16,-3.56,-3.86,-4.31,-4.64,-4.93]],
  [310,[-1.9,-2.32,-2.58,-2.93,-3.33,-3.63,-4.08,-4.41,-4.7,-5.08]],[317,[-1.94,-2.2,-2.55,-2.95,-3.25,-3.7,-4.03,-4.32,-4.7,-4.98]],
  [323,[-1.97,-2.32,-2.72,-3.02,-3.47,-3.8,-4.09,-4.47,-4.75,-5.12]],[330,[-2.0,-2.4,-2.7,-3.15,-3.48,-3.77,-4.15,-4.43,-4.8,-5.11]],
  [336,[-2.03,-2.33,-2.78,-3.11,-3.4,-3.78,-4.06,-4.43,-4.74,-5.16]],[343,[-2.07,-2.35,-2.72,-3.03,-3.45,-3.71,-4.06,-4.46,-4.76,-5.21]],
  [349,[-2.1,-2.47,-2.78,-3.2,-3.46,-3.81,-4.21,-4.51,-4.96,-5.29]],[356,[-2.14,-2.45,-2.87,-3.13,-3.48,-3.88,-4.18,-4.63,-4.96,-5.25]],
  [362,[-2.17,-2.59,-2.85,-3.2,-3.6,-3.9,-4.35,-4.68,-4.97,-5.35]],[369,[-2.21,-2.47,-2.82,-3.22,-3.52,-3.97,-4.3,-4.59,-4.97,-5.25]],
  [375,[-2.25,-2.6,-3.0,-3.3,-3.75,-4.08,-4.37,-4.75,-5.03,-5.4]],[382,[-2.29,-2.69,-2.99,-3.44,-3.77,-4.06,-4.44,-4.72,-5.09,-5.4]],
  [388,[-2.33,-2.63,-3.08,-3.41,-3.7,-4.08,-4.36,-4.73,-5.04]],[395,[-2.37,-2.65,-3.02,-3.33,-3.75,-4.01,-4.36,-4.76,-5.06]],
  [401,[-2.41,-2.78,-3.09,-3.51,-3.77,-4.12,-4.52,-4.82,-5.27]],[408,[-2.45,-2.76,-3.18,-3.44,-3.79,-4.19,-4.49,-4.94,-5.27]],
  [414,[-1.9,-2.48,-2.9,-3.16,-3.51,-3.91,-4.21,-4.66,-4.99,-5.28]],[421,[-2.53,-2.79,-3.14,-3.54,-3.84,-4.29,-4.62,-4.91,-5.29]],
  [427,[-2.56,-2.91,-3.31,-3.61,-4.06,-4.39,-4.68,-5.06,-5.34]],[434,[-2.6,-3.0,-3.3,-3.75,-4.08,-4.37,-4.75,-5.03,-5.4]],
  [440,[-2.64,-2.94,-3.39,-3.72,-4.01,-4.39,-4.67,-5.04,-5.35]],[447,[-2.68,-2.96,-3.33,-3.64,-4.06,-4.32,-4.67,-5.07,-5.37]],
  [453,[-2.72,-3.09,-3.4,-3.82,-4.08,-4.43,-4.83,-5.13]],[460,[-2.8,-3.11,-3.53,-3.79,-4.14,-4.54,-4.84,-5.27]],
  [466,[-2.86,-3.28,-3.54,-3.89,-4.29,-4.59,-5.04]],[471,[-2.65]],[473,[-2.93,-3.19,-3.54,-3.94,-4.24,-4.69,-5.02]],[479,[-3.0,-3.35,-3.75,-4.05,-4.5,-4.83]],
  [489,[-4.7,-5.7]],[492,[-6.2,-3.4]],[500,[-6.1,-3.2,-4.05]],[505,[-4.8]],[531,[-3.6]],[576,[-3.95]],[644,[-4.1]],
  [118,[-0.02]],[139,[-0.25]],[166,[-0.45]],[188,[-0.6]],[229,[-0.85]],[262,[-1.05]],[301,[-1.45]],[333,[-1.65]],[361,[-1.85]],[392,[-2.05]],[431,[-2.25]],[458,[-2.4]],[484,[-2.7]],[496,[-3.0]],
  [236,[-4.6]],[262,[-4.8]],[301,[-5.4]],[332,[-5.65]],[371,[-5.75]],[418,[-5.7]],[452,[-5.75]],[476,[-5.4]],
];

// Bowen ratio vs Beta1
const bowenForest: Pt[] = [
  [0.499,0],[0.525,0],[0.543,0],[0.56,0],[0.61,0],[0.614,-0.03],[0.721,0],[0.872,0],[0.975,0],[1.064,0],[1.124,-0.05],[1.16,-0.03],[1.18,0],[1.206,0],[1.236,-0.03],[1.25,-0.05],[1.266,0],[1.302,0],[1.36,0],[1.405,0],[1.44,0],[1.52,0],[1.57,0],[1.654,0],[1.707,0],[1.734,-0.03],[1.74,0],[1.778,0],[1.813,0],[1.849,0],[1.902,0],[1.929,0],[1.95,-0.02],[1.964,0],[1.988,0],[2.0,0],
  [-0.49,-0.3],[-0.46,-0.4],[-0.44,-0.2],[-0.41,-0.5],[-0.38,-0.35],[-0.32,-0.69],[-0.34,-1.28],[-0.32,-1.64],[-0.3,-1.1],[-0.27,-1.98],[-0.27,-1.57],[-0.25,-0.9],[-0.23,-1.2],[-0.21,-1.4],[-0.2,-1.9],[-0.185,-1.86],[-0.176,-2.45],[-0.17,-2.1],[-0.16,-2.0],[-0.15,-2.89],[-0.14,-1.7],[-0.13,-2.6],[-0.12,-2.2],[-0.105,-1.79],[-0.1,-3.1],[-0.09,-2.5],[-0.079,-2.3],
  [-0.23,-4.35],[-0.13,-4.28],[-0.114,-3.99],[-0.1,-3.6],[-0.079,-3.47],[-0.07,-4.0],[-0.06,-4.43],[-0.052,-4.79],[-0.045,-3.8],[-0.04,-5.3],[-0.03,-4.6],[-0.025,-5.97],[-0.02,-5.1],[-0.025,-6.92],[-0.01,-5.6],[-0.002,-6.48],[-0.088,-6.99],[-0.062,-7.58],[-0.043,-7.8],[-0.017,-9.31],
  [0.005,-5.2],[0.01,-6.1],[0.015,-4.9],[0.02,-5.7],[0.028,-7.21],[0.03,-6.3],[0.033,-10.61],[0.035,-5.4],[0.04,-6.8],[0.045,-7.65],[0.05,-5.9],[0.055,-6.5],[0.06,-7.3],[0.065,-5.6],[0.07,-6.2],[0.075,-7.0],[0.081,-7.87],[0.085,-6.0],[0.09,-6.7],[0.095,-7.5],[0.1,-5.3],
  [0.105,-6.4],[0.108,-8.53],[0.11,-7.1],[0.115,-5.8],[0.12,-6.9],[0.125,-7.6],[0.13,-6.2],[0.135,-7.3],[0.14,-5.5],[0.145,-8.0],[0.15,-6.6],[0.155,-7.7],[0.161,-8.75],[0.161,-9.92],[0.165,-6.1],[0.17,-7.2],[0.175,-5.7],[0.18,-6.8],[0.185,-7.9],[0.188,-12.12],[0.19,-6.4],[0.195,-7.4],[0.2,-8.3],
  [0.205,-6.9],[0.21,-7.7],[0.214,-8.9],[0.22,-9.4],[0.225,-6.5],[0.23,-7.3],[0.235,-8.2],[0.241,-10.54],[0.245,-7.0],[0.25,-8.16],[0.25,-12.78],[0.255,-6.7],[0.26,-7.6],[0.268,-9.56],[0.27,-8.5],[0.275,-6.9],[0.28,-7.8],[0.285,-9.1],[0.29,-6.6],[0.294,-8.31],[0.298,-9.6],
  [0.305,-7.4],[0.31,-8.8],[0.315,-6.8],[0.321,-10.98],[0.325,-7.9],[0.33,-9.78],[0.335,-8.4],[0.34,-7.2],[0.345,-9.0],[0.35,-7.8],[0.356,-7.58],[0.36,-8.6],[0.365,-9.3],[0.37,-7.0],[0.374,-9.19],[0.38,-8.2],[0.385,-6.7],[0.39,-9.6],[0.395,-8.8],[0.4,-7.5],
  [0.405,-8.3],[0.41,-9.3],[0.415,-7.2],[0.419,-9.92],[0.425,-8.7],[0.428,-10.22],[0.435,-7.7],[0.44,-9.0],[0.445,-8.2],[0.45,-9.5],[0.455,-7.4],[0.463,-9.19],[0.47,-8.5],[0.475,-7.0],[0.48,-8.9],[0.485,-8.0],[0.495,-9.99],[0.5,-8.6],
  [0.507,-10.0],[0.525,-8.97],[0.525,-6.55],[0.534,-8.31],[0.539,-8.46],[0.543,-7.43],[0.552,-8.17],[0.56,-7.0],[0.57,-7.29],[0.575,-9.56],[0.578,-6.55],[0.578,-8.31],[0.578,-9.07],[0.579,-5.82],[0.59,-7.6],[0.596,-6.96],[0.605,-8.6],[0.605,-10.22],[0.61,-8.02],[0.614,-7.73],[0.614,-10.22],[0.623,-9.34],[0.632,-8.17],[0.641,-7.8],[0.668,-8.31],[0.676,-8.31],[0.69,-8.39],[0.703,-7.58],[0.703,-7.75],[0.707,-7.5],[0.708,-8.02],
  [0.716,-10.22],[0.726,-10.04],[0.739,-9.31],[0.757,-8.2],[0.79,-8.31],[0.79,-9.85],[0.82,-8.17],[0.832,-8.63],[0.835,-8.8],[0.85,-9.07],[0.907,-8.02],[0.928,-8.85],[0.943,-8.97],[0.978,-9.07],[1.014,-8.7],[1.032,-9.12],[1.11,-9.31],[1.143,-10.19],[1.195,-9.37],[1.245,-9.63],[1.252,-10.04],[1.289,-9.7],[1.33,-10.85],[1.385,-10.7],[1.418,-11.05],
  [-0.05,-3.0],[0.0,-4.2],[0.03,-3.6],[0.06,-4.6],[0.1,-4.5],[0.13,-5.0],[0.16,-5.4],[0.2,-5.6],[0.24,-5.8],[0.285,-5.6],[0.312,-5.97],[0.34,-6.2],[0.3,-5.8],
  [-0.44,-0.6],[-0.42,-0.9],[-0.4,-1.1],[-0.37,-1.0],[-0.35,-1.5],[-0.33,-1.9],[-0.29,-1.5],[-0.26,-2.2],[-0.24,-1.7],[-0.22,-2.4],[-0.19,-2.7],[-0.17,-3.0],[-0.14,-3.3],[-0.12,-3.0],[-0.11,-3.6],[-0.09,-4.1],
  [-0.07,-4.6],[-0.06,-5.1],[-0.05,-5.6],[-0.035,-6.3],[-0.02,-6.0],[-0.015,-6.6],[0.0,-6.9],[0.01,-7.4],[0.02,-6.6],[0.03,-7.9],[0.04,-6.0],[0.05,-8.4],[0.06,-6.9],[0.07,-7.6],[0.08,-8.1],[0.09,-6.4],
  [0.1,-7.2],[0.11,-8.0],[0.12,-6.5],[0.13,-7.8],[0.14,-8.6],[0.15,-7.1],[0.16,-8.2],[0.17,-6.7],[0.18,-7.6],[0.19,-8.6],[0.2,-7.0],[0.21,-8.0],[0.22,-7.3],[0.23,-8.6],[0.24,-7.6],[0.25,-9.0],
  [0.26,-8.3],[0.27,-7.3],[0.28,-8.8],[0.29,-9.3],[0.3,-8.0],[0.31,-9.4],[0.32,-8.5],[0.33,-7.6],[0.34,-8.7],[0.35,-9.5],[0.36,-8.2],[0.37,-8.9],[0.38,-9.7],[0.39,-8.4],[0.4,-9.1],[0.42,-8.4],
  [0.43,-9.5],[0.44,-8.6],[0.46,-8.9],[0.48,-9.4],[0.49,-8.7],[0.51,-9.2],[0.53,-7.9],[0.55,-8.9],[0.57,-7.8],[0.59,-8.4],[0.61,-9.1],[0.63,-7.5],[0.65,-8.7],
];

const bowenGrass: Col[] = [
  [-0.5,[0,-0.2]],[-0.48,[-0.05,-0.3]],[-0.46,[0,-0.22]],[-0.44,[-0.08,-0.35]],[-0.42,[0,-0.25,-0.5]],[-0.4,[-0.05,-0.3]],[-0.39,[-0.84]],
  [-0.38,[0,-0.2,-0.45]],[-0.36,[-0.06,-0.32,-0.7]],[-0.34,[0,-0.25,-0.5]],[-0.32,[-0.08,-0.35]],[-0.3,[0,-0.22,-0.48]],[-0.28,[-0.05,-0.3,-0.55]],
  [-0.26,[0,-0.24]],[-0.24,[-0.06,-0.34,-0.6]],[-0.22,[0,-0.25,-0.5]],[-0.2,[-0.08,-0.36]],[-0.18,[0,-0.26,-0.55]],[-0.16,[-0.05,-0.32,-0.62]],
  [-0.15,[-2.45]],[-0.14,[0,-0.26,-0.54]],[-0.12,[-0.06,-0.35,-0.66]],
  [-0.095,[0,-0.28,-0.65,-0.96,-1.3,-1.9,-2.6]],[-0.078,[-0.1,-0.52,-0.78,-1.13,-1.53,-2.28,-2.61,-2.9]],
  [-0.06,[0,-0.4,-0.7,-1.15,-1.48,-1.77,-2.15,-2.43,-2.8,-3.11,-3.4]],
  [-0.037,[-0.15,-0.48,-0.77,-1.15,-1.43,-1.8,-2.11,-2.53,-2.79,-3.14,-3.54,-3.84]],
  [-0.019,[0,-0.31,-0.73,-0.99,-1.34,-1.74,-2.04,-2.49,-2.82,-3.11,-3.49,-3.77,-4.14,-4.4]],
  [0.004,[-0.08,-0.43,-0.83,-1.13,-1.58,-1.91,-2.2,-2.58,-2.86,-3.23,-3.54,-3.96,-4.22,-4.57]],
  [0.022,[0,-0.45,-0.78,-1.07,-1.45,-1.73,-2.1,-2.41,-2.83,-3.09,-3.44,-3.84,-4.14,-4.59,-4.9]],
  [0.047,[-0.12,-0.49,-0.8,-1.22,-1.48,-1.83,-2.23,-2.53,-2.98,-3.31,-3.6,-3.98,-4.26,-4.63,-4.94]],
  [0.066,[0,-0.26,-0.61,-1.01,-1.31,-1.76,-2.09,-2.38,-2.76,-3.04,-3.41,-3.72,-4.14,-4.4,-4.75,-5.15,-5.3]],
  [0.088,[-0.05,-0.35,-0.8,-1.13,-1.42,-1.8,-2.08,-2.45,-2.76,-3.18,-3.44,-3.79,-4.19,-4.49,-4.94,-5.27,-5.5]],
  [0.107,[0,-0.29,-0.67,-0.95,-1.32,-1.63,-2.05,-2.31,-2.66,-3.06,-3.36,-3.81,-4.14,-4.43,-4.81,-5.09,-5.46]],
  [0.131,[-0.1,-0.38,-0.75,-1.06,-1.48,-1.74,-2.09,-2.49,-2.79,-3.24,-3.57,-3.86,-4.24,-4.52,-4.89,-5.2,-5.62]],
  [0.149,[0,-0.42,-0.68,-1.03,-1.43,-1.73,-2.18,-2.51,-2.8,-3.18,-3.46,-3.83,-4.14,-4.56,-4.82,-5.17,-5.57,-5.9]],
  [0.172,[-0.06,-0.46,-0.76,-1.21,-1.54,-1.83,-2.21,-2.49,-2.86,-3.17,-3.59,-3.85,-4.2,-4.6,-4.9,-5.35,-5.68,-6.0]],
  [0.193,[0,-0.33,-0.62,-1.0,-1.28,-1.65,-1.96,-2.38,-2.64,-2.99,-3.39,-3.69,-4.14,-4.47,-4.76,-5.14,-5.42,-5.8]],
  [0.21,[-6.04]],
  [0.214,[-0.04,-0.35,-0.77,-1.03,-1.38,-1.78,-2.08,-2.53,-2.86,-3.15,-3.53,-3.81,-4.18,-4.49,-4.91,-5.17,-5.52]],
  [0.233,[-0.5,-0.85,-1.25,-1.55,-2.0,-2.33,-2.62,-3.0,-3.28,-3.65,-3.96,-4.38,-4.64,-4.99,-5.39]],
  [0.257,[-1.0,-1.45,-1.78,-2.07,-2.45,-2.73,-3.1,-3.41,-3.83,-4.09,-4.44,-4.84,-5.14,-5.4]],
  [0.273,[0,-0.84]],[0.28,[-1.79]],
  [0.276,[-1.5,-1.88,-2.16,-2.53,-2.84,-3.26,-3.52,-3.87,-4.27,-4.57,-5.02,-5.3]],
  [0.298,[-1.9,-2.27,-2.58,-3.0,-3.26,-3.61,-4.01,-4.31,-4.76,-5.09]],
  [0.321,[-2.1,-2.36,-2.71,-3.11,-3.41,-3.86,-4.19,-4.48,-4.86,-5.14]],
  [0.343,[-2.3,-2.6,-3.05,-3.38,-3.67,-4.05,-4.33,-4.7,-5.01]],
  [0.362,[-2.4,-2.69,-3.07,-3.35,-3.72,-4.03,-4.45,-4.71,-5.06]],[0.374,[-1.5]],
  [0.386,[-2.6,-2.88,-3.25,-3.56,-3.98,-4.24,-4.59,-4.99]],
  [0.408,[-2.8,-3.22,-3.48,-3.83,-4.23,-4.53,-4.98]],[0.41,[-2.45]],
  [0.43,[-2.9,-3.3,-3.6,-4.05,-4.38,-4.67,-5.0]],
  [0.452,[-3.0,-3.33,-3.62,-4.0,-4.28,-4.65,-4.96]],[0.463,[-2.89]],
  [0.474,[-3.2,-3.51,-3.93,-4.19,-4.54,-4.94]],
  [0.497,[-3.3,-3.65,-4.05,-4.35,-4.8]],[0.507,[-2.71]],
  [0.52,[-3.5,-3.95,-4.28,-4.57,-4.9]],
  [0.54,[-3.7,-4.08,-4.36,-4.73]],
  [0.568,[-4.9]],[0.576,[-4.2]],[0.585,[-5.05]],[0.593,[-3.67]],[0.62,[-4.8]],[0.644,[-3.62]],[0.65,[-3.6,-5.05]],[0.66,[-4.2]],
  [0.677,[-4.38]],[0.694,[-4.72]],[0.71,[-4.15]],[0.747,[-4.87]],[0.763,[-5.2]],[0.77,[-4.4]],[0.81,[-5.05]],[0.825,[-5.12]],
  [0.87,[-4.97]],[0.886,[-5.04]],[0.904,[-5.6]],[0.94,[-5.0]],[0.964,[-5.5]],[0.97,[-5.67]],
];

const FONT = '"Liberation Sans", Arial, Helvetica, sans-serif';
const BETA_UNIT = 1e-3;

const fromCols = (cols: Col[]): Pt[] => cols.flatMap(([x, ys]) => ys.map((v) => [x, v] as Pt));

type Box = { left: number; right: number; top: number; bottom: number };

const diamondPath = (w: number, h: number) => `M0,${-h}L${w},0L0,${h}L${-w},0Z`;

function fmtBeta(v: number) {
  const r = +v.toFixed(3);
  return r === 0 ? "0" : String(r);
}

function Legend({ x0, y0 }: { x0: number; y0: number }) {
  return (
    <g>
      <rect x={x0} y={y0} width={144} height={65} fill="white" stroke="#111" strokeWidth={1.1} />
      <circle cx={x0 + 32.5} cy={y0 + 19} r={3.4} fill="none" stroke="#000" strokeWidth={1.1} />
      <path d={diamondPath(3.8, 4.1)} transform={`translate(${x0 + 32.5},${y0 + 44})`} fill="#000" />
      <text x={x0 + 60} y={y0 + 27.5} fontSize={25} letterSpacing={1} fontFamily={FONT}>{seriesNames[0]}</text>
      <text x={x0 + 60} y={y0 + 52.5} fontSize={25} letterSpacing={1} fontFamily={FONT}>{seriesNames[1]}</text>
    </g>
  );
}

function YTitle({ x, y }: { x: number; y: number }) {
  return (
    <text transform={`translate(${x},${y}) rotate(-90)`} textAnchor="middle" fontSize={24} letterSpacing={1} fontFamily={FONT}>
      Beta1<tspan dx={10}>(K</tspan>
      <tspan dy={-9} fontSize={16}>-1</tspan>
      <tspan dy={9} dx={4}>(6hr)</tspan>
      <tspan dy={-9} fontSize={16}>-1</tspan>
      <tspan dy={9}>)</tspan>
    </text>
  );
}

type PanelProps = {
  box: Box;
  xDomain: [number, number];
  xTicks: number[];
  forest: Pt[];
  grass: Pt[];
  legend: [number, number];
  yTitleX: number;
  xTitle: React.ReactNode;
};

function Panel({ box, xDomain, xTicks, forest, grass, legend, yTitleX, xTitle }: PanelProps) {
  const x = d3.scaleLinear().domain(xDomain).range([box.left, box.right]);
  const y = d3.scaleLinear().domain([-0.014, 0]).range([box.bottom, box.top]);
  const tk = 6;
  const diamond = diamondPath(4.5, 4.7);
  return (
    <g>
      <rect x={box.left} y={box.top} width={box.right - box.left} height={box.bottom - box.top} fill="none" stroke="#222" strokeWidth={1.2} />
      {betaTicks.map((v) => (
        <g key={`y${v}`}>
          <line x1={box.left} x2={box.left + tk} y1={y(v)} y2={y(v)} stroke="#222" strokeWidth={1.2} />
          <line x1={box.right} x2={box.right - tk} y1={y(v)} y2={y(v)} stroke="#222" strokeWidth={1.2} />
          <text x={box.left - 12} y={y(v)} dy="0.36em" textAnchor="end" fontSize={22} letterSpacing={0.7} fontFamily={FONT}>
            {fmtBeta(v)}
          </text>
        </g>
      ))}
      {xTicks.map((v) => (
        <g key={`x${v}`}>
          <line x1={x(v)} x2={x(v)} y1={box.bottom} y2={box.bottom - tk} stroke="#222" strokeWidth={1.2} />
          <line x1={x(v)} x2={x(v)} y1={box.top} y2={box.top + tk} stroke="#222" strokeWidth={1.2} />
          <text x={x(v)} y={box.bottom + 25} textAnchor="middle" fontSize={22} letterSpacing={0.7} fontFamily={FONT}>
            {String(v)}
          </text>
        </g>
      ))}
      {forest.map((p, i) => (
        <circle key={`f${i}`} cx={x(p[0])} cy={y(p[1] * BETA_UNIT)} r={3.8} fill="none" stroke="#000" strokeWidth={1.2} />
      ))}
      {grass.map((p, i) => (
        <path key={`g${i}`} d={diamond} transform={`translate(${x(p[0])},${y(p[1] * BETA_UNIT)})`} fill="#000" />
      ))}
      <Legend x0={legend[0]} y0={legend[1]} />
      <YTitle x={yTitleX} y={(box.top + box.bottom) / 2} />
      {xTitle}
    </g>
  );
}

export default function App() {
  const p1: Box = { left: 145.3, right: 613.3, top: 20, bottom: 336.7 };
  const p2: Box = { left: 772.7, right: 1239.3, top: 20, bottom: 337 };
  const p3: Box = { left: 135, right: 603.3, top: 505, bottom: 821.7 };
  const p4: Box = { left: 772.7, right: 1241.7, top: 504, bottom: 822.5 };
  const cx = (b: Box) => (b.left + b.right) / 2;
  const titleProps = { textAnchor: "middle" as const, fontSize: 24, letterSpacing: 1, fontFamily: FONT };
  return (
    <svg width={1264} height={901} style={{ position: "absolute", left: 0, top: 0, background: "white" }}>
      <Panel
        box={p1} xDomain={[0, 1200]} xTicks={solarTicks} forest={solarForest} grass={fromCols(solarGrass)}
        legend={[176.7, 213.3]} yTitleX={45}
        xTitle={
          <text x={cx(p1)} y={405} {...titleProps}>
            Surface Solar Radiation (W/m<tspan dy={-9} fontSize={16}>2</tspan><tspan dy={9}>)</tspan>
          </text>
        }
      />
      <Panel
        box={p2} xDomain={[0, 1.2]} xTicks={ustarTicks} forest={ustarForest} grass={fromCols(ustarGrass)}
        legend={[779.3, 150.7]} yTitleX={680}
        xTitle={
          <text x={cx(p2)} y={388} {...titleProps}>
            u<tspan dy={3} fontSize={13}>*</tspan><tspan dy={-3}> (m/s)</tspan>
          </text>
        }
      />
      <Panel
        box={p3} xDomain={[0, 700]} xTicks={latentTicks} forest={latentForest} grass={fromCols(latentGrass)}
        legend={[154.3, 732.7]} yTitleX={35}
        xTitle={
          <text x={cx(p3)} y={895} {...titleProps}>
            Surface Latent Heat Flux (W/m<tspan dy={-9} fontSize={16}>2</tspan><tspan dy={9}>)</tspan>
          </text>
        }
      />
      <Panel
        box={p4} xDomain={[-0.5, 2]} xTicks={bowenTicks} forest={bowenForest} grass={fromCols(bowenGrass)}
        legend={[1076.7, 536.7]} yTitleX={680}
        xTitle={
          <text x={cx(p4)} y={875} {...titleProps}>
            Bowen Ratio
          </text>
        }
      />
    </svg>
  );
}
